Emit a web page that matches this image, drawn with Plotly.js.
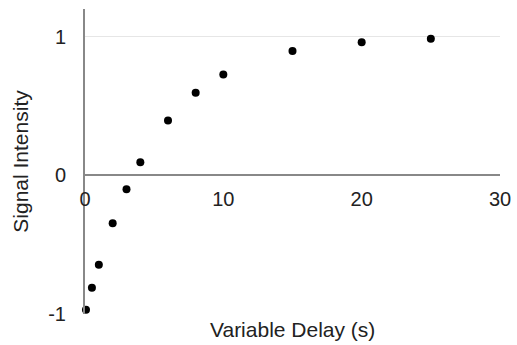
<!DOCTYPE html>
<html>
<head>
<meta charset="utf-8">
<script src="https://cdn.plot.ly/plotly-3.0.1.min.js"></script>
<style>html,body{margin:0;padding:0;background:#fff;}#chart{width:517px;height:345px;}</style>
</head>
<body>
<div id="chart"></div>
<script>
// Data
var delay = [0.07, 0.5, 1, 2, 3, 4, 6, 8, 10, 15, 20, 25];
var intensity = [-0.97, -0.81, -0.645, -0.345, -0.1, 0.095, 0.395, 0.595, 0.727, 0.897, 0.96, 0.985];
var xTicks = [0, 10, 20, 30];
var yTicks = [-1, 0, 1];
var xTitle = 'Variable Delay (s)';
var yTitle = 'Signal Intensity';

var yRange = [-1, 1.2];
var fontFam = '"Liberation Sans", Arial, sans-serif';

var trace = {
  x: delay, y: intensity, type: 'scatter', mode: 'markers',
  marker: {color: '#000000', size: 8}, cliponaxis: false, hoverinfo: 'none'
};

var layout = {
  width: 517, height: 345,
  margin: {l: 85, r: 17, t: 9, b: 31},
  paper_bgcolor: '#ffffff', plot_bgcolor: '#ffffff',
  showlegend: false,
  font: {family: fontFam, size: 20, color: '#222222'},
  xaxis: {
    range: [0, 30], tickvals: xTicks, ticktext: xTicks.map(String),
    anchor: 'free', position: (0 - yRange[0]) / (yRange[1] - yRange[0]),
    showgrid: false, zeroline: false,
    showline: true, linecolor: '#888888', linewidth: 2,
    ticks: '', ticklabelstandoff: 6,
    tickfont: {family: fontFam, size: 20, color: '#222222'}
  },
  yaxis: {
    range: yRange, tickvals: yTicks, ticktext: yTicks.map(String),
    showgrid: true, gridcolor: '#e6e6e6', gridwidth: 1,
    zeroline: false,
    showline: true, linecolor: '#888888', linewidth: 2,
    ticks: '', ticklabelstandoff: 13,
    tickfont: {family: fontFam, size: 20, color: '#222222'},
    title: {text: yTitle, font: {family: fontFam, size: 21, color: '#222222'}, standoff: 14}
  },
  annotations: [{
    text: xTitle, xref: 'paper', yref: 'paper', x: 0.5, y: -0.05,
    xanchor: 'center', yanchor: 'middle', showarrow: false,
    font: {family: fontFam, size: 21, color: '#222222'}
  }]
};

Plotly.newPlot('chart', [trace], layout, {staticPlot: true, displayModeBar: false});
</script>
</body>
</html>
